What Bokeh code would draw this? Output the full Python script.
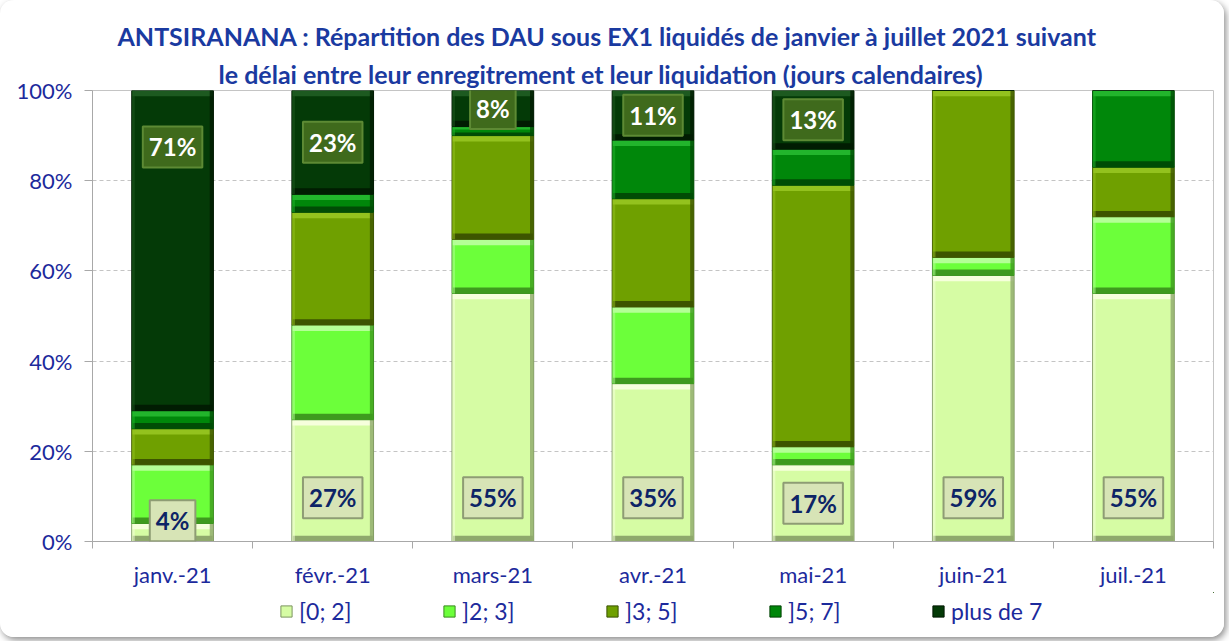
from bokeh.plotting import figure
from bokeh.models import Range1d, FixedTicker, Label, Legend, LegendItem, Title
from bokeh.layouts import column
from bokeh.embed import file_html
from bokeh.resources import INLINE

# ---------------- data ----------------
months = ["janv.-21", "févr.-21", "mars-21", "avr.-21", "mai-21", "juin-21", "juil.-21"]
series_names = ["[0; 2]", "]2; 3]", "]3; 5]", "]5; 7]", "plus de 7"]
s_0_2 = [4, 27, 55, 35, 17, 59, 55]
s_2_3 = [13, 21, 12, 17, 4, 4, 17]
s_3_5 = [8, 25, 23, 24, 58, 37, 11]
s_5_7 = [4, 4, 2, 13, 8, 0, 17]
s_plus7 = [71, 23, 8, 11, 13, 0, 0]
y_ticks = [0, 20, 40, 60, 80, 100]
y_tick_labels = ["0%", "20%", "40%", "60%", "80%", "100%"]
title_line1 = "ANTSIRANANA : Répartition des DAU sous EX1 liquidés de janvier à juillet 2021 suivant"
title_line2 = "le délai entre leur enregitrement et leur liquidation (jours calendaires)"

# ---------------- styles ----------------
FONT = "Lato"
NAVY = "#1c2a9c"
TITLE_C = "#1a3aa0"
fills = ["#d6fca4", "#6cff3a", "#6fa000", "#00870a", "#043a07"]
lights = ["#f6ffdc", "#b4ff96", "#93c21e", "#22b52c", "#1d5a20"]
darks = ["#8fa96c", "#3e9a1e", "#3d5500", "#004c05", "#011c02"]
edges = ["#7c9560", "#3a8a20", "#3a5200", "#004404", "#011802"]

series = [s_0_2, s_2_3, s_3_5, s_5_7, s_plus7]
xc = [i + 0.5 for i in range(len(months))]
BW = 0.51
W = 1224

p = figure(width=W, height=592, x_range=Range1d(0, 7), y_range=Range1d(0, 100),
           output_backend="svg", toolbar_location=None,
           min_border_left=92, min_border_right=W - 1213, min_border_top=90, min_border_bottom=51)
p.background_fill_color = "white"
p.border_fill_color = "white"
p.outline_line_color = "#c4c4c4"

bottom = [0] * len(months)
for k, vals in enumerate(series):
    top = [b + v for b, v in zip(bottom, vals)]
    p.vbar(x=xc, width=BW, bottom=bottom, top=top, fill_color=fills[k],
           line_color=edges[k], line_width=1)
    # bevel strips (only for non-empty segments)
    xs = [x for x, v in zip(xc, vals) if v > 0]
    bs = [b for b, v in zip(bottom, vals) if v > 0]
    ts = [t for t, v in zip(top, vals) if v > 0]
    hs = [min(1.3, (t - b) / 3) for b, t in zip(bs, ts)]
    p.vbar(x=xs, width=BW - 0.01, bottom=[t - h for t, h in zip(ts, hs)], top=ts,
           fill_color=lights[k], line_color=None)
    p.vbar(x=xs, width=BW - 0.01, bottom=bs, top=[b + h for b, h in zip(bs, hs)],
           fill_color=darks[k], line_color=None)
    p.vbar(x=[x + BW / 2 - 0.012 for x in xs], width=0.022, bottom=bs, top=ts,
           fill_color=darks[k], line_color=None, fill_alpha=0.8)
    p.vbar(x=[x - BW / 2 + 0.01 for x in xs], width=0.018, bottom=bs, top=ts,
           fill_color=lights[k], line_color=None, fill_alpha=0.5)
    bottom = top

# data labels
for i, v in enumerate(s_0_2):
    if v > 0:
        p.add_layout(Label(x=xc[i], y=min(max(v / 2, 4.6), 9.7), text=f"{v}%", text_align="center",
                           text_baseline="middle", text_font=FONT, text_font_size="24px",
                           text_font_style="bold", text_color="#0d2466",
                           background_fill_color="#d7e4b6", border_line_color="#8e9c74",
                           border_line_width=2, padding=6))
for i, v in enumerate(s_plus7):
    if v > 0:
        p.add_layout(Label(x=xc[i], y=max(100 - v / 2, 87.5), text=f"{v}%", text_align="center",
                           text_baseline="middle", text_font=FONT, text_font_size="24px",
                           text_font_style="bold", text_color="white",
                           background_fill_color="#3f6a1c", border_line_color="#5d8a34",
                           border_line_width=2, padding=6))

# title (two lines, left-aligned with offsets so they sit where the original does)
for txt, off, so in ((title_line2, 126, 3), (title_line1, 25, 9)):
    p.add_layout(Title(text=txt, align="left", offset=off, text_font=FONT,
                       text_font_size="25px", text_font_style="bold", text_color=TITLE_C,
                       standoff=so), "above")

# axes
p.yaxis.ticker = FixedTicker(ticks=y_ticks)
p.yaxis.major_label_overrides = {t: l for t, l in zip(y_ticks, y_tick_labels)}
p.yaxis.major_label_text_font = FONT
p.yaxis.major_label_text_font_size = "22px"
p.yaxis.major_label_text_color = NAVY
p.yaxis.axis_line_color = "#a8a8a8"
p.yaxis.major_tick_line_color = "#a8a8a8"
p.yaxis.major_tick_out = 8
p.yaxis.major_tick_in = 0
p.yaxis.minor_tick_line_color = None
p.yaxis.major_label_standoff = 12

p.xaxis.ticker = FixedTicker(ticks=xc, minor_ticks=list(range(8)))
p.xaxis.major_label_overrides = {x: m for x, m in zip(xc, months)}
p.xaxis.major_label_text_font = FONT
p.xaxis.major_label_text_font_size = "22px"
p.xaxis.major_label_text_color = NAVY
p.xaxis.axis_line_color = "#a8a8a8"
p.xaxis.major_tick_line_color = None
p.xaxis.minor_tick_line_color = "#a8a8a8"
p.xaxis.minor_tick_out = 7
p.xaxis.minor_tick_in = 0
p.xaxis.major_label_standoff = 12

p.xgrid.grid_line_color = None
p.ygrid.grid_line_color = "#c4c4c4"
p.ygrid.grid_line_dash = "4 3"

# ---------------- legend strip ----------------
lf = figure(width=W, height=45, x_range=Range1d(0, 1), y_range=Range1d(0, 1),
            output_backend="svg", toolbar_location=None, min_border=0)
lf.axis.visible = False
lf.grid.visible = False
lf.outline_line_color = None
lf.border_fill_color = "white"
items = []
for k, name in enumerate(series_names):
    # proxy renderers placed outside the visible range: only their legend swatch shows
    r = lf.vbar(x=[5], width=0.1, bottom=[5], top=[6], fill_color=fills[k],
                line_color=edges[k], line_width=1)
    items.append(LegendItem(label=name, renderers=[r]))
legend = Legend(items=items, orientation="horizontal", location=(187, 12),
                label_text_font=FONT, label_text_font_size="23px", label_text_color=NAVY,
                glyph_width=14, glyph_height=14, label_width=140, label_standoff=6, spacing=3,
                border_line_color=None, background_fill_alpha=0, padding=2, margin=0)
lf.add_layout(legend, "center")

page = column(p, lf, spacing=0,
              styles={"border-radius": "14px", "box-shadow": "2px 3px 7px rgba(0,0,0,0.45)",
                      "overflow": "hidden", "background": "white"})

open("out.html", "w").write(file_html(page, INLINE))
